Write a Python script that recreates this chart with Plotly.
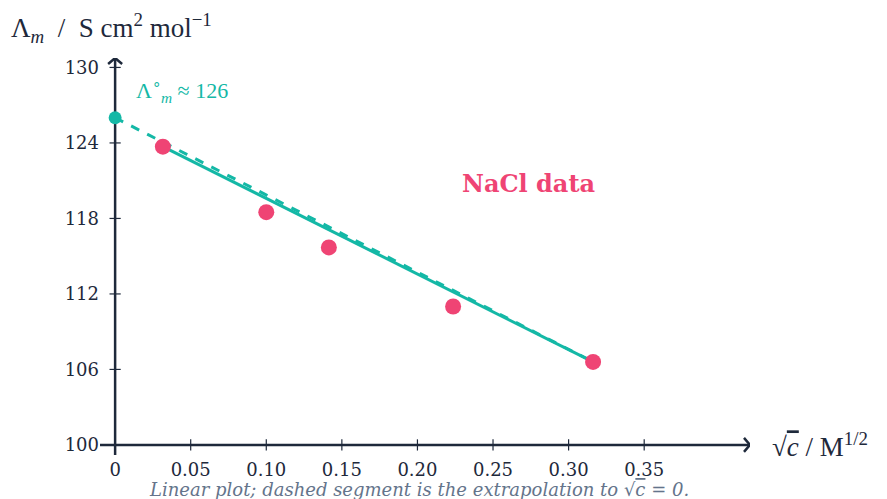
import plotly.graph_objects as go

# data
sqrt_c = [0.0316, 0.1, 0.1414, 0.2236, 0.3162]
lam_m = [123.7, 118.5, 115.7, 111.0, 106.6]
lam_0 = 126.0
x_ticks = [0, 0.05, 0.10, 0.15, 0.20, 0.25, 0.30, 0.35]
x_tick_text = ["0", "0.05", "0.10", "0.15", "0.20", "0.25", "0.30", "0.35"]
y_ticks = [100, 106, 112, 118, 124, 130]
y_tick_text = ["100", "106", "112", "118", "124", "130"]

TEAL = "#14b8a6"
PINK = "#ef4474"
AXIS = "#1e293b"
GREY = "#64748b"
SERIF = "DejaVu Serif"
MATH = "Liberation Serif"

X_MIN, X_MAX = -0.01, 0.42
Y_MIN, Y_MAX = 99.2, 130.75

fig = go.Figure()

# extrapolation (dashed) from intercept to last point
fig.add_trace(go.Scatter(x=[0, sqrt_c[-1]], y=[lam_0, lam_m[-1]], mode="lines",
                         line=dict(color=TEAL, width=3, dash="dash"), hoverinfo="skip"))
# fitted line over data range
fig.add_trace(go.Scatter(x=[sqrt_c[0], sqrt_c[-1]], y=[lam_m[0], lam_m[-1]], mode="lines",
                         line=dict(color=TEAL, width=3), hoverinfo="skip"))
# data points
fig.add_trace(go.Scatter(x=sqrt_c, y=lam_m, mode="markers",
                         marker=dict(color=PINK, size=16, line=dict(width=0))))
# intercept
fig.add_trace(go.Scatter(x=[0], y=[lam_0], mode="markers",
                         marker=dict(color=TEAL, size=13, line=dict(width=0))))
# ticks on the axes
fig.add_trace(go.Scatter(x=x_ticks[1:], y=[100] * (len(x_ticks) - 1), mode="markers",
                         marker=dict(symbol="line-ns", size=8, line=dict(color=AXIS, width=1.2)),
                         hoverinfo="skip"))
fig.add_trace(go.Scatter(x=[0] * (len(y_ticks) - 1), y=y_ticks[1:], mode="markers",
                         marker=dict(symbol="line-ew", size=8, line=dict(color=AXIS, width=1.2)),
                         hoverinfo="skip"))

# axes lines
fig.add_shape(type="line", x0=X_MIN, x1=X_MAX, y0=100, y1=100, line=dict(color=AXIS, width=2.5), layer="below")
fig.add_shape(type="line", x0=0, x1=0, y0=Y_MIN, y1=Y_MAX, line=dict(color=AXIS, width=2.5), layer="below")
# arrow heads (open chevrons), pixel sized
fig.add_shape(type="path", xsizemode="pixel", ysizemode="pixel", xanchor=X_MAX, yanchor=100,
              path="M -6,7 L 0,0 L -6,-7", line=dict(color=AXIS, width=2.5))
fig.add_shape(type="path", xsizemode="pixel", ysizemode="pixel", xanchor=0, yanchor=Y_MAX,
              path="M -7,-6 L 0,0 L 7,-6", line=dict(color=AXIS, width=2.5))

annotations = [
    dict(x=0, y=1, xref="paper", yref="paper", xshift=-91, yshift=30, xanchor="left", yanchor="middle",
         text="Λ<sub><i>m</i></sub>  /  S cm<sup>2</sup> mol<sup>−1</sup>", showarrow=False,
         font=dict(family=MATH, size=27, color=AXIS)),
    dict(x=1, y=100, xref="paper", yref="y", xshift=20, xanchor="left", yanchor="middle",
         text="√<span style='text-decoration:overline'><i>c</i></span> / M<sup>1/2</sup>", showarrow=False,
         font=dict(family=MATH, size=27, color=AXIS)),
    dict(x=0.0125, y=128.2, xref="x", yref="y", xanchor="left", yanchor="middle",
         text="Λ<sup>∘</sup><sub><i>m</i></sub> ≈ 126", showarrow=False,
         font=dict(family=MATH, size=22, color=TEAL)),
    dict(x=0.2735, y=120.8, xref="x", yref="y", xanchor="center", yanchor="middle",
         text="<b>NaCl data</b>", showarrow=False,
         font=dict(family=SERIF, size=24, color=PINK)),
    dict(x=0.491, y=0, xref="paper", yref="paper", yshift=-34, xanchor="center", yanchor="middle",
         text="<i>Linear plot; dashed segment is the extrapolation to √<span style='text-decoration:overline'>c</span> = 0.</i>",
         showarrow=False, font=dict(family=SERIF, size=18, color=GREY)),
]

fig.update_layout(
    width=887, height=499,
    margin=dict(l=100, r=137, t=58, b=44),
    paper_bgcolor="white", plot_bgcolor="white",
    showlegend=False,
    annotations=annotations,
    xaxis=dict(range=[X_MIN, X_MAX], tickvals=x_ticks, ticktext=x_tick_text, showgrid=False,
               zeroline=False, showline=False, ticks="", ticklabelstandoff=2,
               tickfont=dict(family=SERIF, size=18, color=AXIS)),
    yaxis=dict(range=[Y_MIN, Y_MAX], tickvals=y_ticks, ticktext=y_tick_text, showgrid=False,
               zeroline=False, showline=False, ticks="", ticklabelstandoff=0,
               tickfont=dict(family=SERIF, size=18, color=AXIS)),
)

fig.write_html("out.html", config={"displayModeBar": False},
               post_script="document.body.style.margin='0';")
